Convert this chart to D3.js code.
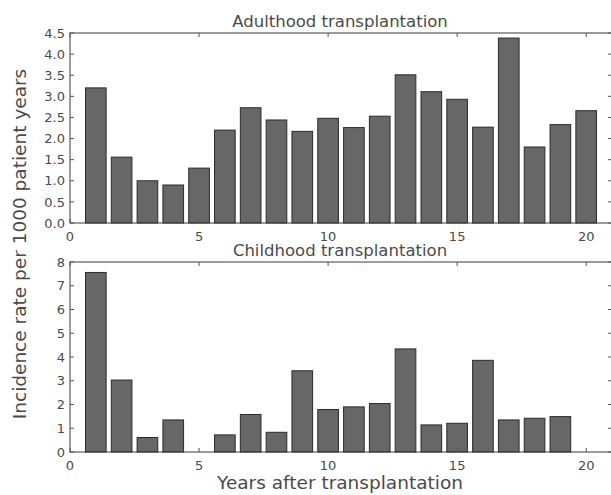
<!DOCTYPE html>
<html>
<head>
<meta charset="utf-8">
<script src="https://cdn.jsdelivr.net/npm/d3@7"></script>
<style>
  body { margin: 0; background: #fff; }
  text { font-family: "DejaVu Sans", sans-serif; fill: #4a4a4a; }
</style>
</head>
<body>
<div id="chart"></div>
<script>
// years after transplantation
const years = d3.range(1, 21);
const adultRates = [3.2, 1.56, 1.0, 0.9, 1.3, 2.2, 2.73, 2.44, 2.17, 2.48,
  2.26, 2.53, 3.51, 3.11, 2.93, 2.27, 4.38, 1.8, 2.33, 2.66];
const childRates = [7.56, 3.03, 0.61, 1.35, 0, 0.72, 1.58, 0.83, 3.42, 1.79,
  1.9, 2.04, 4.34, 1.14, 1.21, 3.86, 1.35, 1.42, 1.49, 0];
const xTicks = [0, 5, 10, 15, 20];
const adultTicks = [0, 0.5, 1, 1.5, 2, 2.5, 3, 3.5, 4, 4.5];
const childTicks = [0, 1, 2, 3, 4, 5, 6, 7, 8];

const width = 611, height = 495;
const svg = d3.select('#chart').append('svg')
  .attr('width', width)
  .attr('height', height);

const x = d3.scaleLinear().domain([0, 21]).range([70, 612]);

const panels = [
  { title: 'Adulthood transplantation', values: adultRates, ticks: adultTicks, max: 4.5, top: 33, bottom: 223, fmt: d3.format('.1f') },
  { title: 'Childhood transplantation', values: childRates, ticks: childTicks, max: 8, top: 262, bottom: 452, fmt: d3.format('d') }
];

panels.forEach(p => {
  const y = d3.scaleLinear().domain([0, p.max]).range([p.bottom, p.top]);
  const g = svg.append('g');

  g.selectAll('rect.bar')
    .data(years)
    .enter().append('rect')
    .attr('class', 'bar')
    .attr('x', (d) => x(d - 0.4))
    .attr('width', x(0.8) - x(0))
    .attr('y', (d, i) => y(p.values[i]))
    .attr('height', (d, i) => y(0) - y(p.values[i]))
    .attr('fill', '#676767')
    .attr('stroke', '#2b2b2b')
    .attr('stroke-width', 1);

  // frame
  g.append('rect')
    .attr('x', x(0)).attr('y', p.top)
    .attr('width', x(21) - x(0)).attr('height', p.bottom - p.top)
    .attr('fill', 'none').attr('stroke', '#3a3a3a').attr('stroke-width', 1);

  // inside ticks on all sides
  const tickColor = '#555';
  xTicks.forEach(t => {
    g.append('line').attr('x1', x(t)).attr('x2', x(t)).attr('y1', p.bottom).attr('y2', p.bottom - 4).attr('stroke', tickColor);
    g.append('line').attr('x1', x(t)).attr('x2', x(t)).attr('y1', p.top).attr('y2', p.top + 4).attr('stroke', tickColor);
  });
  p.ticks.forEach(t => {
    g.append('line').attr('x1', x(0)).attr('x2', x(0) + 4).attr('y1', y(t)).attr('y2', y(t)).attr('stroke', tickColor);
    g.append('line').attr('x1', x(21) - 4).attr('x2', x(21)).attr('y1', y(t)).attr('y2', y(t)).attr('stroke', tickColor);
  });

  g.selectAll('text.xt')
    .data(xTicks)
    .enter().append('text')
    .attr('x', d => x(d))
    .attr('y', p.bottom + 18)
    .attr('text-anchor', 'middle')
    .attr('font-size', 13)
    .text(d => d);

  g.selectAll('text.yt')
    .data(p.ticks)
    .enter().append('text')
    .attr('x', x(0) - 5)
    .attr('y', d => y(d))
    .attr('dy', '0.36em')
    .attr('text-anchor', 'end')
    .attr('font-size', 13)
    .text(d => p.fmt(d));

  g.append('text')
    .attr('x', (x(0) + x(21)) / 2 - 1)
    .attr('y', p.top - 6)
    .attr('text-anchor', 'middle')
    .attr('font-size', 16.5)
    .text(p.title);
});

svg.append('text')
  .attr('x', 340)
  .attr('y', 489)
  .attr('text-anchor', 'middle')
  .attr('font-size', 18.5)
  .text('Years after transplantation');

svg.append('text')
  .attr('transform', 'translate(26,244) rotate(-90)')
  .attr('text-anchor', 'middle')
  .attr('font-size', 18.5)
  .text('Incidence rate per 1000 patient years');
</script>
</body>
</html>
